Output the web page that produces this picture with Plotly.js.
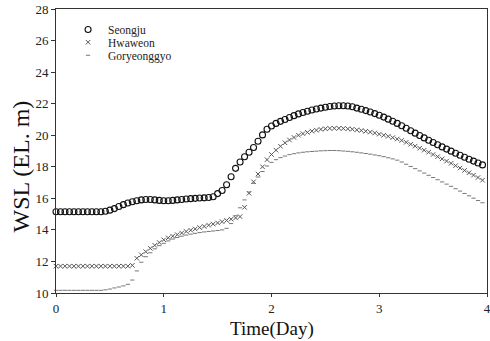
<!DOCTYPE html>
<html>
<head>
<meta charset="utf-8">
<script src="https://cdn.plot.ly/plotly-3.0.1.min.js"></script>
<style>html,body{margin:0;padding:0;background:#fff;}#chart{width:490px;height:341px;}</style>
</head>
<body>
<div id="chart"></div>
<script>
// hourly samples, hour index 0..95
const hours = Array.from({length: 96}, (_, i) => i);
const timeDay = hours.map(h => h / 24);

const seongju = [
15.15,15.15,15.15,15.15,15.15,15.15,15.15,15.15,15.15,15.15,15.15,15.18,
15.25,15.35,15.48,15.6,15.7,15.78,15.85,15.9,15.93,15.93,15.9,15.87,
15.85,15.85,15.87,15.9,15.93,15.96,15.98,16.0,16.02,16.03,16.05,16.1,
16.3,16.5,16.86,17.37,17.9,18.3,18.64,18.92,19.22,19.62,20.02,20.38,
20.58,20.75,20.88,21.0,21.12,21.24,21.35,21.44,21.52,21.6,21.66,21.72,
21.77,21.82,21.85,21.87,21.87,21.85,21.8,21.72,21.65,21.56,21.47,21.37,
21.27,21.15,21.02,20.89,20.75,20.6,20.44,20.28,20.13,19.98,19.83,19.68,
19.54,19.4,19.26,19.12,18.99,18.86,18.73,18.6,18.48,18.36,18.24,18.12
];

const hwaweon = [
11.7,11.7,11.7,11.7,11.7,11.7,11.7,11.7,11.7,11.7,11.7,11.7,
11.7,11.7,11.7,11.7,11.7,11.75,12.2,12.42,12.62,12.83,13.02,13.2,
13.37,13.5,13.6,13.7,13.8,13.9,13.98,14.06,14.15,14.22,14.3,14.37,
14.44,14.52,14.6,14.68,14.76,14.84,15.43,16.32,17.05,17.54,18.0,18.45,
18.78,19.05,19.3,19.52,19.7,19.86,20.0,20.1,20.18,20.26,20.32,20.37,
20.41,20.43,20.44,20.44,20.43,20.41,20.38,20.34,20.3,20.25,20.2,20.14,
20.07,20.0,19.93,19.85,19.76,19.67,19.55,19.43,19.31,19.18,19.05,18.92,
18.78,18.64,18.5,18.36,18.22,18.07,17.92,17.77,17.62,17.47,17.32,17.15
];

const goryeonggyo = [
10.17,10.17,10.17,10.17,10.17,10.17,10.17,10.17,10.17,10.17,10.17,10.2,
10.25,10.32,10.38,10.45,10.55,10.82,11.4,11.95,12.3,12.55,12.8,13.0,
13.15,13.3,13.42,13.52,13.6,13.67,13.73,13.78,13.83,13.87,13.9,13.93,
13.96,14.0,14.1,14.4,14.9,15.4,15.9,16.4,16.95,17.35,17.7,18.05,
18.28,18.45,18.58,18.68,18.77,18.83,18.88,18.92,18.95,18.97,18.99,19.01,
19.02,19.03,19.03,19.02,19.0,18.98,18.95,18.92,18.88,18.84,18.8,18.75,
18.7,18.64,18.57,18.5,18.42,18.3,18.16,18.02,17.88,17.74,17.6,17.46,
17.32,17.18,17.04,16.9,16.76,16.61,16.46,16.31,16.16,16.01,15.86,15.72
];

const seriesNames = ['Seongju', 'Hwaweon', 'Goryeonggyo'];
const xTicks = [0, 1, 2, 3, 4];
const yTicks = [10, 12, 14, 16, 18, 20, 22, 24, 26, 28];
const xTitle = 'Time(Day)';
const yTitle = 'WSL (EL. m)';

const serif = '"Liberation Serif", "Times New Roman", serif';

const traces = [
  {x: timeDay, y: seongju, name: seriesNames[0], type: 'scatter', mode: 'markers', cliponaxis: false, legend: 'legend',
   marker: {symbol: 'circle-open', size: 6, color: '#111', line: {width: 1.1, color: '#111'}}},
  {x: timeDay, y: hwaweon, name: seriesNames[1], type: 'scatter', mode: 'markers', cliponaxis: false, legend: 'legend2',
   marker: {symbol: 'x-thin-open', size: 4.5, color: '#555', line: {width: 1, color: '#555'}}},
  {x: timeDay, y: goryeonggyo, name: seriesNames[2], type: 'scatter', mode: 'markers', cliponaxis: false, legend: 'legend3',
   marker: {symbol: 'line-ew-open', size: 3, color: '#777', line: {width: 1, color: '#777'}}}
];

const legendFont = {family: serif, size: 11.5, color: '#222'};
const legendBase = {x: 0.028, xanchor: 'left', yanchor: 'middle', bgcolor: 'rgba(0,0,0,0)', font: legendFont, itemwidth: 30};

const layout = {
  width: 490, height: 341,
  margin: {l: 56, r: 3, t: 9, b: 48},
  paper_bgcolor: '#fff', plot_bgcolor: '#fff',
  font: {family: serif, color: '#222', size: 13},
  showlegend: true,
  legend: Object.assign({}, legendBase, {y: 0.928}),
  legend2: Object.assign({}, legendBase, {y: 0.883}),
  legend3: Object.assign({}, legendBase, {y: 0.837}),
  xaxis: {range: [0, 4], tickvals: xTicks, ticktext: xTicks.map(String), showgrid: false, zeroline: false,
          showline: true, linecolor: '#333', linewidth: 1, mirror: true, ticklabeloverflow: 'allow',
          ticks: 'outside', ticklen: 3, tickcolor: '#333', tickfont: {family: serif, size: 13, color: '#222'}},
  yaxis: {range: [10, 28], tickvals: yTicks, ticktext: yTicks.map(String), showgrid: false, zeroline: false,
          showline: true, linecolor: '#333', linewidth: 1, mirror: true, ticklabeloverflow: 'allow',
          ticks: 'outside', ticklen: 4, tickcolor: '#333', tickfont: {family: serif, size: 13, color: '#222'}},
  annotations: [
    {text: xTitle, xref: 'paper', yref: 'paper', x: 0.5, y: -0.125, xanchor: 'center', yanchor: 'middle',
     showarrow: false, font: {family: serif, size: 19, color: '#111'}},
    {text: yTitle, xref: 'paper', yref: 'paper', x: -0.081, y: 0.446, xanchor: 'center', yanchor: 'middle',
     textangle: -90, showarrow: false, font: {family: serif, size: 24, color: '#111'}}
  ]
};

Plotly.newPlot('chart', traces, layout, {displayModeBar: false, staticPlot: true});
</script>
</body>
</html>
